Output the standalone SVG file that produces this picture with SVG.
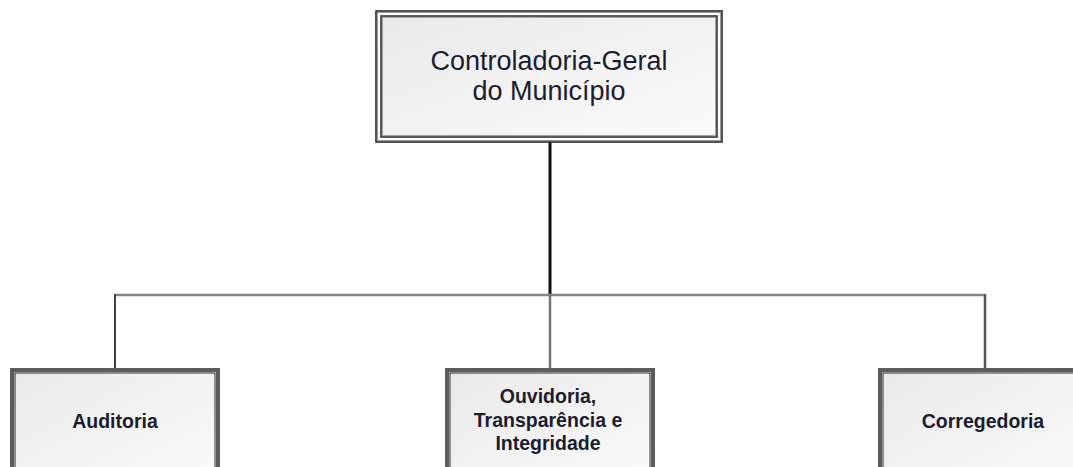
<svg xmlns="http://www.w3.org/2000/svg" width="1073" height="467" viewBox="0 0 1073 467">
<defs>
<linearGradient id="fill" x1="0" y1="0" x2="1" y2="1">
<stop offset="0" stop-color="#e9e9e9"/>
<stop offset="1" stop-color="#fbfbfb"/>
</linearGradient>
<style>
.outerTop{fill:none;stroke:#2a2a2a;stroke-width:1.6}
.shadeTop{fill:none;stroke:#9a9a9a;stroke-width:1}
.innerTop{fill:url(#fill);stroke:#333;stroke-width:1.6}
.outerBot{fill:url(#fill);stroke:#5c5c5c;stroke-width:4}
.innerBot{fill:none;stroke:#2a2a2a;stroke-width:1}
.t{font-family:"Liberation Sans",Arial,sans-serif;fill:#1c1c30;text-anchor:middle}
.big{font-size:27px}
.small{font-size:19.5px;font-weight:bold}
.conn{fill:none}
</style>
</defs>
<rect width="1073" height="467" fill="#ffffff"/>
<g id="connectors" class="conn">
<line x1="550" y1="142" x2="550" y2="295" stroke="#111" stroke-width="3"/>
<line x1="115" y1="295" x2="985" y2="295" stroke="#858585" stroke-width="2.5"/>
<line x1="115" y1="294" x2="115" y2="368" stroke="#2e2e2e" stroke-width="1.8"/>
<line x1="550" y1="295" x2="550" y2="368" stroke="#777" stroke-width="2.5"/>
<line x1="985" y1="294" x2="985" y2="368" stroke="#555" stroke-width="2.5"/>
</g>
<g id="node-controladoria">
<rect x="376" y="11" width="346" height="131" class="outerTop"/>
<rect x="377.5" y="12.5" width="343" height="128" class="shadeTop"/>
<rect x="381" y="16" width="336" height="121" class="innerTop"/>
<rect x="382.5" y="17.5" width="333" height="118" fill="none" stroke="#a0a0a0" stroke-width="1"/>
<text class="t big" x="549" y="70">Controladoria-Geral</text>
<text class="t big" x="549" y="100">do Município</text>
</g>
<g id="node-auditoria">
<rect x="12" y="370" width="206" height="110" class="outerBot"/>
<rect x="15" y="373" width="200" height="104" class="innerBot"/>
<text class="t small" x="115" y="428">Auditoria</text>
</g>
<g id="node-ouvidoria">
<rect x="447" y="370" width="206" height="110" class="outerBot"/>
<rect x="450" y="373" width="200" height="104" class="innerBot"/>
<text class="t small" x="548" y="403">Ouvidoria,</text>
<text class="t small" x="548" y="427">Transparência e</text>
<text class="t small" x="548" y="450">Integridade</text>
</g>
<g id="node-corregedoria">
<rect x="880" y="370" width="206" height="110" class="outerBot"/>
<rect x="883" y="373" width="200" height="104" class="innerBot"/>
<text class="t small" x="983" y="428">Corregedoria</text>
</g>
</svg>
